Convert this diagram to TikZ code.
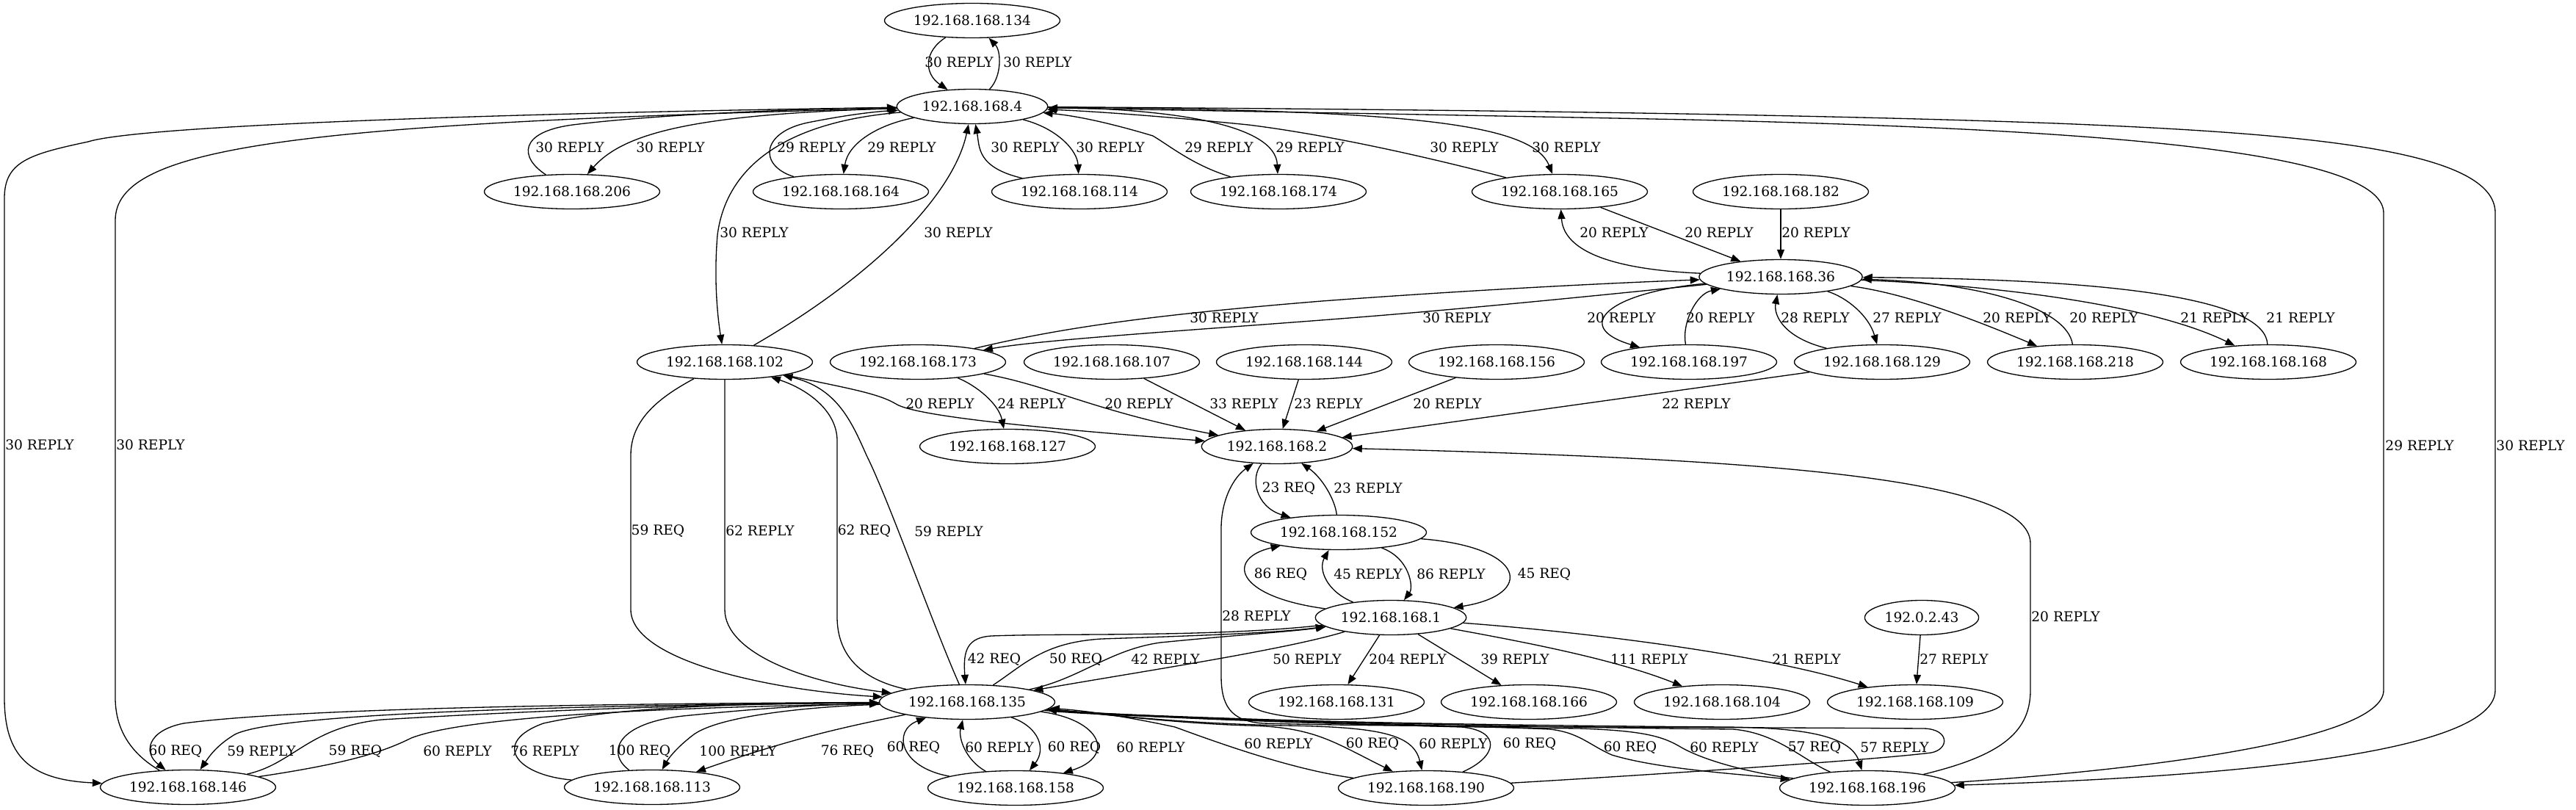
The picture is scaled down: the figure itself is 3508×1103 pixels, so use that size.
\documentclass[tikz,border=0pt]{standalone}
\usepackage{fontspec}
\setmainfont{DejaVu Serif}
\usetikzlibrary{arrows.meta, shapes.geometric}

\begin{document}
\begin{tikzpicture}[
    x=0.2mm, y=-0.2mm,
    >={Triangle[length=2.6mm, width=2mm]},
    H/.style={ellipse, draw, line width=0.75pt, inner xsep=0.9mm, inner ysep=0pt,
              minimum height=9.4mm, font=\fontsize{10.6}{12}\selectfont},
    A/.style={->, line width=0.75pt},
    L/.style={font=\fontsize{10.6}{12}\selectfont, inner sep=0pt}
]
\useasboundingbox (0,0) rectangle (3508,1103);

% === ROW 1: TOP HOSTS ===
\node[H] (n134) at (1324,28) {192.168.168.134};
\node[H] (n4) at (1324,145) {192.168.168.4};

% === ROW 2 ===
\node[H] (n206) at (779,261) {192.168.168.206};
\node[H] (n164) at (1145,261) {192.168.168.164};
\node[H] (n114) at (1470,261) {192.168.168.114};
\node[H] (n174) at (1741,261) {192.168.168.174};
\node[H] (n165) at (2124,261) {192.168.168.165};
\node[H] (n182) at (2425,261) {192.168.168.182};
\node[H] (n36) at (2425,377) {192.168.168.36};

% === ROW 3 ===
\node[H] (n102) at (987,493) {192.168.168.102};
\node[H] (n173) at (1250,493) {192.168.168.173};
\node[H] (n107) at (1514,493) {192.168.168.107};
\node[H] (n144) at (1776,493) {192.168.168.144};
\node[H] (n156) at (2038,493) {192.168.168.156};
\node[H] (n197) at (2300,493) {192.168.168.197};
\node[H] (n129) at (2563,493) {192.168.168.129};
\node[H] (n218) at (2826,493) {192.168.168.218};
\node[H] (n168) at (3089,493) {192.168.168.168};

% === ROW 4: GATEWAYS ===
\node[H] (n127) at (1372,608) {192.168.168.127};
\node[H] (n2) at (1739,608) {192.168.168.2};
\node[H] (n152) at (1823,725) {192.168.168.152};
\node[H] (n1) at (1894,841) {192.168.168.1};
\node[H] (n43) at (2617,841) {192.0.2.43};

% === ROW 5 ===
\node[H] (n135) at (1317,956) {192.168.168.135};
\node[H] (n131) at (1820,956) {192.168.168.131};
\node[H] (n166) at (2082,956) {192.168.168.166};
\node[H] (n104) at (2345,956) {192.168.168.104};
\node[H] (n109) at (2608,956) {192.168.168.109};

% === ROW 6: BOTTOM HOSTS ===
\node[H] (n146) at (256,1072) {192.168.168.146};
\node[H] (n113) at (888,1072) {192.168.168.113};
\node[H] (n158) at (1383,1073) {192.168.168.158};
\node[H] (n190) at (1942,1073) {192.168.168.190};
\node[H] (n196) at (2543,1073) {192.168.168.196};

% === .4 LINKS ===
\draw[A] (n134) .. controls (1258,70) and (1258,100) .. (n4) node[L] at (1306,85) {30 REPLY};
\draw[A] (n4) .. controls (1364,105) and (1364,70) .. (n134) node[L] at (1413,85) {30 REPLY};
\draw[A] (n206) .. controls (708,215) and (705,180) .. (780,170) .. controls (900,155) and (1100,148) .. (n4) node[L] at (776,201) {30 REPLY};
\draw[A] (n4) .. controls (950,155) and (850,180) .. (n206) node[L] at (913,201) {30 REPLY};
\draw[A] (n164) .. controls (1032,225) and (1037,180) .. (1100,167) .. controls (1150,157) and (1190,152) .. (n4) node[L] at (1105,201) {29 REPLY};
\draw[A] (n4) .. controls (1195,170) and (1155,195) .. (n164) node[L] at (1228,201) {29 REPLY};
\draw[A] (n114) .. controls (1330,228) and (1334,200) .. (n4) node[L] at (1396,201) {30 REPLY};
\draw[A] (n4) .. controls (1440,175) and (1467,205) .. (n114) node[L] at (1512,201) {30 REPLY};
\draw[A] (n174) .. controls (1625,225) and (1595,200) .. (1570,185) .. controls (1520,170) and (1470,158) .. (n4) node[L] at (1660,201) {29 REPLY};
\draw[A] (n4) .. controls (1600,148) and (1737,170) .. (n174) node[L] at (1784,201) {29 REPLY};
\draw[A] (n165) .. controls (1960,218) and (1820,185) .. (1700,170) .. controls (1600,160) and (1500,152) .. (n4) node[L] at (1994,201) {30 REPLY};
\draw[A] (n4) .. controls (1900,150) and (2085,165) .. (n165) node[L] at (2133,201) {30 REPLY};
\draw[A] (n4) .. controls (1080,165) and (990,220) .. (977,320) .. controls (972,380) and (977,430) .. (n102) node[L] at (1027,317) {30 REPLY};
\draw[A] (n102) .. controls (1200,370) and (1300,260) .. (n4) node[L] at (1305,317) {30 REPLY};

% outer loops
\draw[A] (n4) .. controls (800,152) and (200,168) .. (120,193) .. controls (40,210) and (6,220) .. (6,270) -- (6,950) .. controls (6,1030) and (40,1062) .. (n146) node[L] at (54,606) {30 REPLY};
\draw[A] (n146) .. controls (185,1030) and (157,1000) .. (157,950) -- (157,300) .. controls (157,200) and (400,168) .. (n4) node[L] at (205,606) {30 REPLY};
\draw[A] (n196) .. controls (2900,1050) and (3246,1010) .. (3246,940) -- (3246,290) .. controls (3246,200) and (2800,175) .. (2300,163) .. controls (1900,155) and (1600,150) .. (n4) node[L] at (3295,607) {29 REPLY};
\draw[A] (n4) .. controls (1800,148) and (2400,153) .. (2800,168) .. controls (3150,182) and (3398,205) .. (3398,290) -- (3398,940) .. controls (3398,1040) and (2900,1062) .. (n196) node[L] at (3446,607) {30 REPLY};

% === .36 LINKS ===
\draw[A] (n165) -- (n36) node[L] at (2341,317) {20 REPLY};
\draw[A] (n36) .. controls (2220,368) and (2130,350) .. (n165) node[L] at (2198,317) {20 REPLY};
\draw[A] (n182) -- (n36) node[L] at (2473,317) {20 REPLY};
\draw[A] (n173) .. controls (1450,445) and (1580,428) .. (1800,410) .. controls (2000,395) and (2200,385) .. (n36) node[L] at (1667,433) {30 REPLY};
\draw[A] (n36) .. controls (2150,405) and (2000,420) .. (1850,432) .. controls (1650,448) and (1420,462) .. (n173) node[L] at (1984,433) {30 REPLY};
\draw[A] (n36) .. controls (2190,398) and (2140,445) .. (n197) node[L] at (2208,433) {20 REPLY};
\draw[A] (n197) .. controls (2290,440) and (2310,400) .. (n36) node[L] at (2343,433) {20 REPLY};
\draw[A] (n129) .. controls (2430,460) and (2415,430) .. (n36) node[L] at (2472,433) {28 REPLY};
\draw[A] (n36) .. controls (2515,405) and (2545,430) .. (n129) node[L] at (2597,433) {27 REPLY};
\draw[A] (n36) .. controls (2600,400) and (2700,440) .. (n218) node[L] at (2747,433) {20 REPLY};
\draw[A] (n218) .. controls (2815,420) and (2700,385) .. (n36) node[L] at (2865,433) {20 REPLY};
\draw[A] (n36) .. controls (2750,390) and (2940,420) .. (n168) node[L] at (3016,433) {21 REPLY};
\draw[A] (n168) .. controls (3085,410) and (2900,380) .. (n36) node[L] at (3133,433) {21 REPLY};

% === .2 LINKS ===
\draw[A] (n102) .. controls (1150,528) and (1195,535) .. (1220,550) .. controls (1245,566) and (1400,582) .. (n2) node[L] at (1280,550) {20 REPLY};
\draw[A] (n173) .. controls (1330,525) and (1360,550) .. (n127) node[L] at (1405,550) {24 REPLY};
\draw[A] (n173) .. controls (1430,525) and (1490,560) .. (n2) node[L] at (1551,550) {20 REPLY};
\draw[A] (n107) -- (n2) node[L] at (1694,550) {33 REPLY};
\draw[A] (n144) -- (n2) node[L] at (1809,550) {23 REPLY};
\draw[A] (n156) -- (n2) node[L] at (1971,550) {20 REPLY};
\draw[A] (n129) -- (n2) node[L] at (2310,550) {22 REPLY};
\draw[A] (n196) .. controls (2720,1030) and (2765,1000) .. (2765,940) -- (2765,740) .. controls (2765,650) and (2400,625) .. (n2) node[L] at (2813,840) {20 REPLY};
\draw[A] (n190) .. controls (2250,1055) and (2550,1035) .. (2630,1025) .. controls (2655,1020) and (2655,993) .. (2620,992) .. controls (2300,990) and (1900,990) .. (1720,985) .. controls (1675,982) and (1663,960) .. (1663,920) -- (1663,720) .. controls (1663,680) and (1680,650) .. (n2) node[L] at (1711,839) {28 REPLY};
\draw[A] (n2) .. controls (1702,650) and (1710,690) .. (n152) node[L] at (1755,665) {23 REQ};
\draw[A] (n152) .. controls (1818,680) and (1800,650) .. (n2) node[L] at (1863,665) {23 REPLY};

% === .152 / .1 ===
\draw[A] (n1) .. controls (1680,812) and (1670,760) .. (n152) node[L] at (1744,782) {86 REQ};
\draw[A] (n1) .. controls (1806,805) and (1795,775) .. (n152) node[L] at (1863,782) {45 REPLY};
\draw[A] (n152) .. controls (1920,760) and (1925,800) .. (n1) node[L] at (1976,782) {86 REPLY};
\draw[A] (n152) .. controls (2080,745) and (2090,810) .. (n1) node[L] at (2103,782) {45 REQ};
\draw[A] (n1) -- (n131) node[L] at (1917,898) {204 REPLY};
\draw[A] (n1) -- (n166) node[L] at (2063,898) {39 REPLY};
\draw[A] (n1) .. controls (2080,875) and (2200,898) .. (n104) node[L] at (2246,898) {111 REPLY};
\draw[A] (n1) .. controls (2150,860) and (2400,890) .. (n109) node[L] at (2460,898) {21 REPLY};
\draw[A] (n43) -- (n109) node[L] at (2661,898) {27 REPLY};

% === .135 LINKS ===
\draw[A] (n1) .. controls (1650,868) and (1450,862) .. (1350,866) .. controls (1318,868) and (1311,885) .. (n135) node[L] at (1354,898) {42 REQ};
\draw[A] (n135) .. controls (1395,905) and (1420,875) .. (1500,870) .. controls (1620,866) and (1740,862) .. (n1) node[L] at (1465,898) {50 REQ};
\draw[A] (n135) .. controls (1470,925) and (1510,885) .. (1580,875) .. controls (1680,865) and (1760,860) .. (n1) node[L] at (1587,898) {42 REPLY};
\draw[A] (n1) .. controls (1750,885) and (1550,915) .. (n135) node[L] at (1780,898) {50 REPLY};

\draw[A] (n102) .. controls (900,540) and (859,570) .. (859,620) -- (859,830) .. controls (859,900) and (1050,940) .. (n135) node[L] at (896,723) {59 REQ};
\draw[A] (n102) -- (987,830) .. controls (987,890) and (1100,930) .. (n135) node[L] at (1035,723) {62 REPLY};
\draw[A] (n135) .. controls (1170,925) and (1140,890) .. (1140,840) -- (1140,600) .. controls (1140,560) and (1100,530) .. (n102) node[L] at (1177,723) {62 REQ};
\draw[A] (n135) .. controls (1270,850) and (1210,680) .. (1180,620) .. controls (1160,575) and (1140,528) .. (n102) node[L] at (1292,724) {59 REPLY};

\draw[A] (n135) .. controls (800,958) and (400,965) .. (250,985) .. controls (200,995) and (195,1025) .. (n146) node[L] at (239,1023) {60 REQ};
\draw[A] (n135) .. controls (800,960) and (380,970) .. (320,1000) .. controls (295,1015) and (285,1030) .. (n146) node[L] at (356,1023) {59 REPLY};
\draw[A] (n146) .. controls (400,1040) and (420,990) .. (520,980) .. controls (800,963) and (1050,958) .. (n135) node[L] at (484,1023) {59 REQ};
\draw[A] (n146) .. controls (470,1040) and (520,1025) .. (560,1005) .. controls (650,970) and (1000,962) .. (n135) node[L] at (623,1023) {60 REPLY};

\draw[A] (n113) .. controls (700,1055) and (670,1010) .. (740,985) .. controls (850,960) and (1050,958) .. (n135) node[L] at (742,1023) {76 REPLY};
\draw[A] (n113) .. controls (825,1025) and (840,985) .. (930,975) .. controls (1030,965) and (1100,960) .. (n135) node[L] at (871,1023) {100 REQ};
\draw[A] (n135) .. controls (1100,962) and (980,975) .. (945,1000) .. controls (925,1015) and (912,1030) .. (n113) node[L] at (1005,1023) {100 REPLY};
\draw[A] (n135) .. controls (1150,990) and (1080,1005) .. (n113) node[L] at (1154,1023) {76 REQ};

\draw[A] (n158) .. controls (1225,1045) and (1215,995) .. (n135) node[L] at (1244,1018) {60 REQ};
\draw[A] (n158) .. controls (1315,1035) and (1305,1005) .. (n135) node[L] at (1361,1018) {60 REPLY};
\draw[A] (n135) .. controls (1415,990) and (1425,1020) .. (n158) node[L] at (1463,1018) {60 REQ};
\draw[A] (n135) .. controls (1500,980) and (1520,1030) .. (n158) node[L] at (1567,1018) {60 REPLY};

\draw[A] (n190) .. controls (1760,1048) and (1660,1012) .. (1600,990) .. controls (1530,975) and (1480,968) .. (n135) node[L] at (1741,1013) {60 REPLY};
\draw[A] (n135) .. controls (1500,972) and (1600,985) .. (1700,988) .. controls (1790,990) and (1815,1010) .. (n190) node[L] at (1869,1013) {60 REQ};
\draw[A] (n135) .. controls (1500,972) and (1600,985) .. (1750,988) .. controls (1880,990) and (1925,1000) .. (n190) node[L] at (1979,1013) {60 REPLY};
\draw[A] (n190) .. controls (2040,1030) and (2045,995) .. (1990,990) .. controls (1800,985) and (1520,975) .. (n135) node[L] at (2083,1013) {60 REQ};

\draw[A] (n135) .. controls (1550,978) and (2000,988) .. (2110,993) .. controls (2150,997) and (2165,1015) .. (2195,1028) .. controls (2260,1048) and (2380,1055) .. (n196) node[L] at (2220,1018) {60 REQ};
\draw[A] (n196) .. controls (2380,1052) and (2320,1035) .. (2290,1018) .. controls (2265,1003) and (2240,995) .. (2150,992) .. controls (1800,988) and (1520,975) .. (n135) node[L] at (2348,1018) {60 REPLY};
\draw[A] (n196) .. controls (2455,1035) and (2420,998) .. (2360,993) .. controls (2000,990) and (1520,975) .. (n135) node[L] at (2471,1018) {57 REQ};
\draw[A] (n135) .. controls (1520,978) and (2000,988) .. (2350,990) .. controls (2450,991) and (2520,1000) .. (n196) node[L] at (2580,1018) {57 REPLY};

\end{tikzpicture}
\end{document}
